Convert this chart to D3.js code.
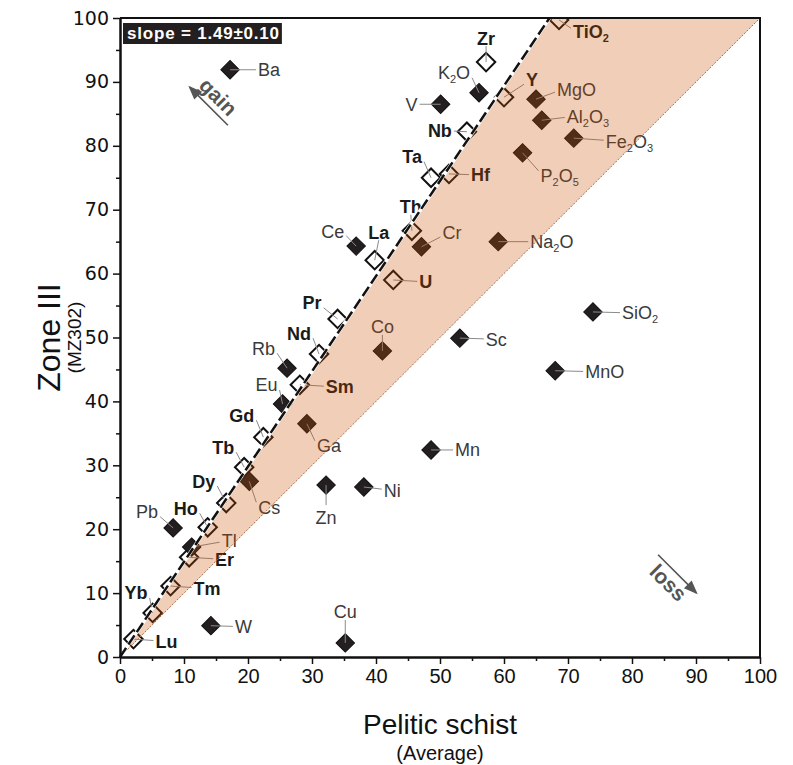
<!DOCTYPE html>
<html>
<head>
<meta charset="utf-8">
<script src="https://cdn.jsdelivr.net/npm/d3@7"></script>
<style>
  body { margin: 0; background: #fff; }
  text { font-family: 'Liberation Sans', Arial, sans-serif; }
</style>
</head>
<body>
<svg></svg>
<script>
// ---- data (pelitic schist average vs zone III, isocon plot) ----

// open diamonds: immobile elements, bold labels
const openNames  = ['TiO2', 'Zr', 'Y', 'Nb', 'Ta', 'Hf', 'Th', 'La', 'U', 'Pr', 'Nd', 'Sm', 'Gd', 'Tb', 'Dy', 'Ho', 'Er', 'Tm', 'Yb', 'Lu'];
const openSchist = [68.6, 57.2, 60.0, 54.2, 48.6, 51.4, 45.6, 39.8, 42.7, 34.0, 31.1, 28.1, 22.4, 19.4, 16.6, 13.7, 10.8, 7.9, 5.1, 2.1];
const openZone   = [99.7, 93.1, 87.6, 82.2, 75.0, 75.6, 66.7, 62.1, 59.0, 52.9, 47.4, 42.6, 34.4, 29.7, 24.1, 20.3, 15.6, 11.1, 6.9, 2.8];

// solid diamonds: mobile elements
const solidNames  = ['Ba', 'K2O', 'V', 'MgO', 'Al2O3', 'Fe2O3', 'P2O5', 'Ce', 'Cr', 'Na2O', 'Co', 'Rb', 'Eu', 'Ga', 'Cs', 'Pb', 'Tl', 'W', 'Cu', 'Zn', 'Ni', 'Mn', 'Sc', 'SiO2', 'MnO'];
const solidSchist = [17.2, 56.1, 50.1, 65.0, 65.9, 70.9, 62.9, 36.9, 47.1, 59.1, 41.0, 26.1, 25.4, 29.2, 20.2, 8.3, 11.2, 14.2, 35.2, 32.2, 38.1, 48.6, 53.1, 73.9, 68.0];
const solidZone   = [91.9, 88.3, 86.5, 87.3, 84.0, 81.2, 78.9, 64.3, 64.2, 65.0, 47.9, 45.2, 39.6, 36.5, 27.5, 20.2, 17.2, 4.9, 2.2, 26.9, 26.6, 32.4, 49.9, 54.0, 44.8];

const slope = 1.49, slopeErr = 0.10;
const axisTicks = d3.range(0, 101, 10);

// label placement: text offset from marker (px) and anchor
const labelPos = {
  Ba: [28, 0, 'start'], K2O: [-9, -20, 'end'], V: [-23, 0, 'end'], Zr: [0, -24, 'middle'],
  Y: [22, -18, 'start'], MgO: [21, -10, 'start'], Al2O3: [25, -4, 'start'], Fe2O3: [32, 3, 'start'],
  P2O5: [18, 23, 'start'], Nb: [-15, -1, 'end'], Ta: [-9, -21, 'end'], Hf: [22, 1, 'start'],
  Th: [-1, -24, 'middle'], Ce: [-12, -15, 'end'], La: [4, -28, 'middle'], Cr: [21, -14, 'start'],
  Na2O: [32, 0, 'start'], U: [26, 2, 'start'], Pr: [-16, -16, 'end'], Co: [0, -24, 'middle'],
  Nd: [-8, -21, 'end'], Rb: [-12, -20, 'end'], Sm: [26, 2, 'start'], Eu: [-5, -19, 'end'],
  Ga: [10, 22, 'start'], Gd: [-9, -22, 'end'], Tb: [-10, -20, 'end'], Cs: [9, 26, 'start'],
  Dy: [-11, -22, 'end'], Ho: [-10, -19, 'end'], Pb: [-15, -16, 'end'], Tl: [30, -7, 'start'],
  Er: [26, 2, 'start'], Tm: [23, 2, 'start'], Yb: [-5, -20, 'end'], Lu: [22, 2, 'start'],
  W: [24, 1, 'start'], Cu: [0, -31, 'middle'], Zn: [0, 32, 'middle'], Ni: [20, 3, 'start'],
  Mn: [24, 0, 'start'], Sc: [26, 1, 'start'], SiO2: [29, 1, 'start'], MnO: [30, 1, 'start'],
  TiO2: [14, 12, 'start']
};

// ---- layout ----

const W = 793, H = 765;
const margin = { top: 18, right: 33, bottom: 108, left: 120 };
const width = W - margin.left - margin.right,
      height = H - margin.top - margin.bottom;

const svg = d3.select('svg').attr('width', W).attr('height', H);

svg.append('defs').append('clipPath').attr('id', 'plot')
  .append('rect').attr('width', width).attr('height', height);

const g = svg.append('g').attr('transform', `translate(${margin.left},${margin.top})`);

const x = d3.scaleLinear().domain([0, 100]).range([0, width]);
const y = d3.scaleLinear().domain([0, 100]).range([height, 0]);

const points = [
  ...openNames.map((n, i) => ({ name: n, sx: openSchist[i], zy: openZone[i], open: true })),
  ...solidNames.map((n, i) => ({ name: n, sx: solidSchist[i], zy: solidZone[i], open: false }))
];

const plotG = g.append('g').attr('clip-path', 'url(#plot)');
const labelG = g.append('g');

// leader lines
labelG.selectAll('line.leader')
  .data(points)
  .join('line')
    .attr('class', 'leader')
    .each(function(d) {
      const [tx, ty, anchor] = labelPos[d.name];
      let ex = anchor === 'start' ? tx - 2 : anchor === 'end' ? tx + 2 : tx;
      let ey = anchor === 'middle' ? (ty < 0 ? ty + 8 : ty - 12)
                                   : ty - Math.max(-5, Math.min(5, ty * 0.3));
      d3.select(this)
        .attr('x1', x(d.sx)).attr('y1', y(d.zy))
        .attr('x2', x(d.sx) + ex).attr('y2', y(d.zy) + ey);
    })
    .attr('stroke', '#8a8a8a')
    .attr('stroke-width', 1);

// labels, digits as subscripts
labelG.selectAll('text.lab')
  .data(points)
  .join('text')
    .attr('class', 'lab')
    .attr('x', d => x(d.sx) + labelPos[d.name][0])
    .attr('y', d => y(d.zy) + labelPos[d.name][1] + 6.5)
    .attr('text-anchor', d => labelPos[d.name][2])
    .style('font-size', '18px')
    .style('font-weight', d => d.open ? 'bold' : 'normal')
    .style('fill', d => d.open ? '#1a1a1a' : '#3a3a3a')
    .each(function(d) {
      const t = d3.select(this);
      const parts = d.name.match(/[A-Za-z]+|\d+/g);
      let sub = false;
      parts.forEach(p => {
        const isNum = /\d/.test(p);
        const ts = t.append('tspan').text(p);
        if (isNum) { ts.attr('dy', 4).style('font-size', '11px'); sub = true; }
        else if (sub) { ts.attr('dy', -4); sub = false; }
      });
    });

// diamonds
const diamond = d3.symbol().type(d3.symbolSquare).size(170);

plotG.selectAll('path.pt')
  .data(points)
  .join('path')
    .attr('class', 'pt')
    .attr('d', diamond)
    .attr('transform', d => `translate(${x(d.sx)},${y(d.zy)}) rotate(45)`)
    .attr('fill', d => d.open ? '#fff' : '#231f20')
    .attr('stroke', '#111')
    .attr('stroke-width', d => d.open ? 2 : 1);

// shaded field between isocon slope and 1:1, laid over marks
const topX = 100 / slope;
g.append('path')
  .attr('d', d3.line()([[x(0), y(0)], [x(topX), y(100)], [x(100), y(100)]]) + 'Z')
  .attr('fill', 'rgb(201,80,0)')
  .attr('fill-opacity', 0.28);

g.append('line')
  .attr('x1', x(0)).attr('y1', y(0)).attr('x2', x(100)).attr('y2', y(100))
  .attr('stroke', '#a86a45').attr('stroke-width', 1).attr('stroke-dasharray', '2,1.5');

g.append('line')
  .attr('x1', x(0)).attr('y1', y(0)).attr('x2', x(topX)).attr('y2', y(100))
  .attr('stroke', '#fff').attr('stroke-width', 3.5);

g.append('line')
  .attr('x1', x(0)).attr('y1', y(0)).attr('x2', x(topX)).attr('y2', y(100))
  .attr('stroke', '#111').attr('stroke-width', 2.5).attr('stroke-dasharray', '11,4');


// ---- axes ----

const xAxis = d3.axisBottom(x).tickValues(axisTicks).tickSize(7).tickPadding(5).tickSizeOuter(0);
const yAxis = d3.axisLeft(y).tickValues(axisTicks).tickSize(7).tickPadding(4).tickSizeOuter(0);
const minor = d3.range(5, 100, 10);

const xAxisG = g.append('g').attr('transform', `translate(0,${height})`).call(xAxis);
g.append('g').attr('transform', `translate(0,${height})`)
  .call(d3.axisBottom(x).tickValues(minor).tickSize(4).tickFormat('').tickSizeOuter(0));
const yAxisG = g.append('g').call(yAxis);
g.append('g').call(d3.axisLeft(y).tickValues(minor).tickSize(4).tickFormat('').tickSizeOuter(0));

g.selectAll('.domain').attr('stroke', '#111').attr('stroke-width', 2);
g.selectAll('.tick line').attr('stroke', '#111').attr('stroke-width', 1.5);
xAxisG.selectAll('.tick text')
  .style('font-size', '20px').style('font-family', "'Liberation Sans', sans-serif")
  .attr('fill', '#111');
yAxisG.selectAll('.tick text')
  .style('font-size', '19px').style('font-family', "'DejaVu Sans', sans-serif")
  .attr('fill', '#111');

// frame top and right
g.append('path')
  .attr('d', `M0,0H${width}V${height}`)
  .attr('fill', 'none').attr('stroke', '#111').attr('stroke-width', 2);

// axis titles
const xt = g.append('g').attr('transform', `translate(${width / 2},${height})`);
xt.append('text').attr('y', 77).attr('text-anchor', 'middle')
  .style('font-size', '28px').attr('fill', '#111').text('Pelitic schist');
xt.append('text').attr('y', 103).attr('text-anchor', 'middle')
  .style('font-size', '20px').attr('fill', '#111').text('(Average)');

const yt = svg.append('g').attr('transform', `translate(0,${margin.top + height / 2}) rotate(-90)`);
yt.append('text').attr('y', 60).attr('text-anchor', 'middle')
  .style('font-size', '32px').attr('fill', '#111').text('Zone III');
yt.append('text').attr('y', 81).attr('text-anchor', 'middle')
  .style('font-size', '19px').attr('fill', '#111').text('(MZ302)');


// ---- slope badge ----

const badge = g.append('g').attr('transform', 'translate(3,5)');
const badgeRect = badge.append('rect').attr('fill', '#231f20');
const badgeText = badge.append('text')
  .attr('x', 4).attr('y', 16)
  .style('font-size', '17px').style('font-weight', 'bold').style('letter-spacing', '0.8px')
  .attr('fill', '#fff')
  .text(`slope = ${slope.toFixed(2)}\u00B1${slopeErr.toFixed(2)}`);
badgeRect.attr('width', badgeText.node().getComputedTextLength() + 6).attr('height', 21);


// ---- gain / loss arrows ----

function arrowLabel(cx, cy, label, lineY, pointLeft) {
  const a = svg.append('g').attr('transform', `translate(${cx},${cy}) rotate(45)`);
  a.append('text').attr('text-anchor', 'middle').attr('y', 7)
    .style('font-size', '21px').style('font-weight', 'bold').attr('fill', '#555')
    .text(label);
  const half = 27;
  a.append('line').attr('x1', -half).attr('x2', half).attr('y1', lineY).attr('y2', lineY)
    .attr('stroke', '#555').attr('stroke-width', 1.6);
  const tip = pointLeft ? -half - 2 : half + 2, back = pointLeft ? 14 : -14;
  a.append('path')
    .attr('d', `M${tip},${lineY}L${tip + back},${lineY - 5.5}L${tip + back},${lineY + 5.5}Z`)
    .attr('fill', '#555');
}

arrowLabel(218, 97, 'gain', 13, true);
arrowLabel(668, 583, 'loss', -13, false);
</script>
</body>
</html>
